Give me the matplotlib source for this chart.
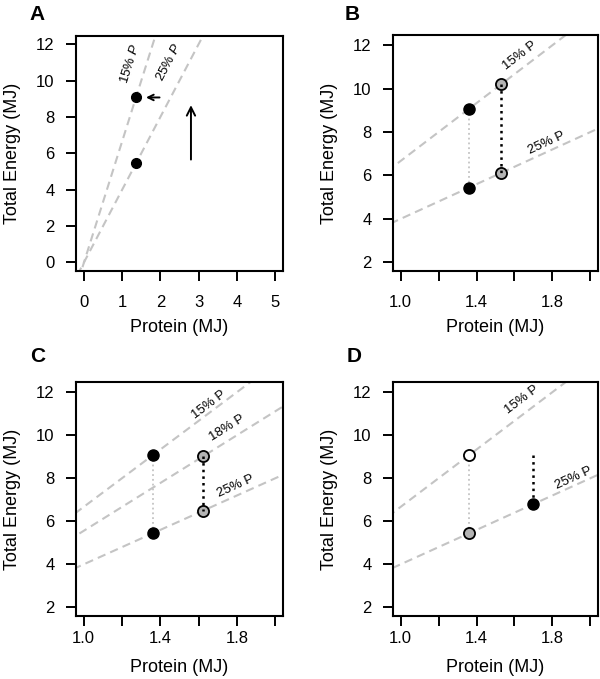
import numpy as np
import matplotlib
matplotlib.use("Agg")
import matplotlib.pyplot as plt

plt.rcParams['font.family'] = ['Liberation Sans', 'DejaVu Sans']
plt.rcParams['mathtext.fontset'] = 'custom'
plt.rcParams['mathtext.rm'] = 'Liberation Sans'
plt.rcParams['mathtext.it'] = 'Liberation Sans:italic'

# protein-percentage reference lines (energy = protein / share)
pct_ab = [15, 25]
pct_c = [15, 18, 25]

# baseline diet (both panels start from same point pair)
base_protein = 1.36
base_energy_hi = 9.07
base_energy_lo = 5.44

# panel B: protein leverage, shift along the lines
b_protein = 1.53
b_energy = [10.2, 6.12]

# panel C: intermediate 18% diet
c_protein = 1.625
c_energy = [9.03, 6.5]

# panel D: fixed energy then fixed protein
d_protein = 1.70
d_energy = 6.8
d_energy_top = 9.1

# label positions (protein, energy) for the line annotations
lab_a = {15: (1.2, 10.9), 25: (2.22, 11.0)}
lab_b = {15: (1.63, 11.5), 25: (1.77, 7.5)}
lab_c = {15: (1.655, 11.4), 18: (1.746, 10.33), 25: (1.795, 7.63)}
lab_d = {15: (1.64, 11.64), 25: (1.91, 8.02)}

GREY_LINE = '#c4c4c4'
GREY_FILL = '#b4b4b4'
W, H = 600, 679

fig = plt.figure(figsize=(W / 100, H / 100), dpi=100)


def make_axes(left, right, top, bottom):
    ax = fig.add_axes([left / W, 1 - bottom / H, (right - left) / W, (bottom - top) / H])
    ax._px = (right - left, bottom - top)
    return ax


def style(ax, letter, lx, ly, xpad, xlab_off):
    for s in ax.spines.values():
        s.set_linewidth(1.5)
    ax.tick_params(direction='out', length=7.5, width=1.4, labelsize=12)
    ax.tick_params(axis='x', pad=xpad)
    ax.tick_params(axis='y', pad=8)
    w, h = ax._px
    ax.set_xlabel('Protein (MJ)', fontsize=13, va='center')
    ax.xaxis.set_label_coords(0.5, -xlab_off / h)
    ax.set_ylabel('Total Energy (MJ)', fontsize=13, va='center')
    ax.yaxis.set_label_coords(-63 / w, 0.5)
    fig.text(lx / W, 1 - ly / H, letter, fontsize=15, fontweight='bold', va='center', ha='left')


def draw_lines(ax, pcts, labels, italic=False):
    xs = np.array([-1.0, 6.0])
    for p in pcts:
        ax.plot(xs, xs / (p / 100), ls=(0, (4, 2.5)), color=GREY_LINE, lw=1.5, zorder=1)
        # angle of the line on screen
        a = ax.transData.transform((1.0, 100 / p))
        b = ax.transData.transform((2.0, 200 / p))
        ang = np.degrees(np.arctan2(b[1] - a[1], b[0] - a[0]))
        tx, ty = labels[p]
        txt = f'{p}% $P$' if italic else f'{p}% P'
        ax.text(tx, ty, txt, fontsize=9.5, rotation=ang, rotation_mode='anchor',
                ha='center', va='center', zorder=4)


def setup_zoom(ax):
    ax.set_xlim(0.96, 2.04)
    ax.set_ylim(1.6, 12.47)
    ax.set_xticks([1.0, 1.2, 1.4, 1.6, 1.8, 2.0])
    ax.set_xticklabels(['1.0', '', '1.4', '', '1.8', ''])
    ax.set_yticks([2, 4, 6, 8, 10, 12])


# ---- A ----
axA = make_axes(76, 283, 35.5, 271)
axA.set_xlim(-0.21, 5.21)
axA.set_ylim(-0.48, 12.48)
axA.set_xticks(range(6))
axA.set_yticks(range(0, 13, 2))
draw_lines(axA, pct_ab, lab_a, italic=True)
axA.plot([base_protein] * 2, [base_energy_hi, base_energy_lo], 'o', color='black', ms=7, zorder=3)
axA.annotate('', xy=(1.55, base_energy_hi), xytext=(2.05, base_energy_hi),
             arrowprops=dict(arrowstyle='->,head_length=0.4,head_width=0.2', lw=1.4, color='black'))
axA.annotate('', xy=(2.8, 8.8), xytext=(2.8, 5.5),
             arrowprops=dict(arrowstyle='->,head_length=0.6,head_width=0.3', lw=1.4, color='black'))
style(axA, 'A', 29, 15, 9.5, 56)

# ---- B ----
axB = make_axes(393, 598, 35, 271)
setup_zoom(axB)
draw_lines(axB, pct_ab, lab_b)
axB.plot([base_protein] * 2, [base_energy_hi, base_energy_lo], ':', color=GREY_LINE, lw=1.3, zorder=2)
axB.plot([base_protein] * 2, [base_energy_hi, base_energy_lo], 'o', color='black', ms=8, zorder=3)
axB.plot([b_protein] * 2, b_energy, 'o', mfc=GREY_FILL, mec='black', mew=1.3, ms=8, zorder=3)
axB.plot([b_protein] * 2, b_energy, ':', color='black', lw=1.8, zorder=5)
style(axB, 'B', 345, 15, 9.5, 56)

# ---- C ----
axC = make_axes(76, 283, 382, 616)
setup_zoom(axC)
draw_lines(axC, pct_c, lab_c)
axC.plot([base_protein] * 2, [base_energy_hi, base_energy_lo], ':', color=GREY_LINE, lw=1.3, zorder=2)
axC.plot([base_protein] * 2, [base_energy_hi, base_energy_lo], 'o', color='black', ms=8, zorder=3)
axC.plot([c_protein] * 2, c_energy, 'o', mfc=GREY_FILL, mec='black', mew=1.3, ms=8, zorder=3)
axC.plot([c_protein] * 2, c_energy, ':', color='black', lw=1.8, zorder=5)
style(axC, 'C', 30, 357, 3.5, 51)

# ---- D ----
axD = make_axes(393, 598, 382, 616)
setup_zoom(axD)
draw_lines(axD, pct_ab, lab_d)
axD.plot([base_protein] * 2, [base_energy_hi, base_energy_lo], ':', color=GREY_LINE, lw=1.3, zorder=2)
axD.plot(base_protein, base_energy_hi, 'o', mfc='white', mec='black', mew=1.3, ms=8, zorder=3)
axD.plot(base_protein, base_energy_lo, 'o', mfc=GREY_FILL, mec='black', mew=1.3, ms=8, zorder=3)
axD.plot([d_protein] * 2, [d_energy_top, d_energy], ':', color='black', lw=1.8, zorder=2)
axD.plot(d_protein, d_energy, 'o', color='black', ms=8, zorder=3)
style(axD, 'D', 347, 357, 3.5, 51)

fig.savefig('out.png', dpi=100)
